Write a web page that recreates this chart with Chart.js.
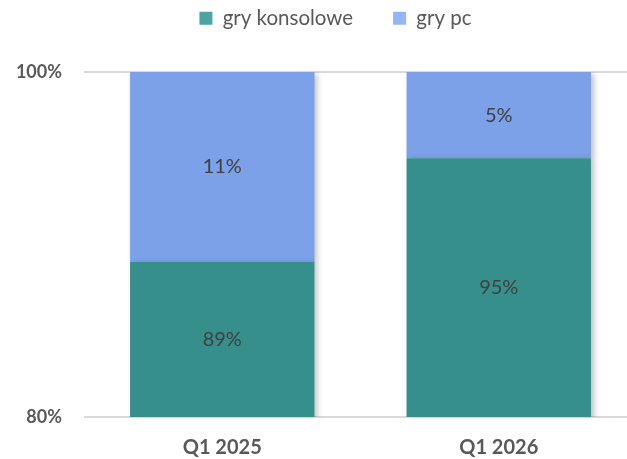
<!DOCTYPE html>
<html lang="pl">
<head>
  <meta charset="UTF-8" />
  <title>Gry konsolowe vs gry pc</title>
  <script src="https://cdn.jsdelivr.net/npm/chart.js"></script>
  <style>
    html, body {
      margin: 0;
      background: #ffffff;
      overflow: hidden;
    }
    .chart-box {
      width: 637px;
      height: 459px;
    }
  </style>
</head>
<body>
  <div class="chart-box"><canvas id="wykres"></canvas></div>

  <script>
    const kategorie = ['Q1 2025', 'Q1 2026'];
    const gryKonsolowe = [89, 95];
    const gryPc = [11, 5];
    const osY = { min: 80, max: 100, krok: 20 };

    const szary = '#595959';
    const czcionka = 'Lato, "Open Sans", sans-serif';

    // cien pod slupkami
    const cienPlugin = {
      id: 'cien',
      beforeDatasetsDraw(chart) {
        const ctx = chart.ctx;
        ctx.save();
        ctx.shadowColor = 'rgba(0,0,0,0.25)';
        ctx.shadowBlur = 6;
        ctx.shadowOffsetX = 3;
        ctx.shadowOffsetY = 2;
      },
      afterDatasetsDraw(chart) {
        chart.ctx.restore();
      }
    };

    // legenda: wyzsza ramka i lekkie przesuniecie w prawo
    const legendaPlugin = {
      id: 'legendaUklad',
      beforeInit(chart) {
        const fit = chart.legend.fit;
        chart.legend.fit = function () {
          fit.bind(chart.legend)();
          this.height = 104;
        };
      },
      afterLayout(chart) {
        chart.legend.left += 17;
        chart.legend.right += 17;
      }
    };

    // etykiety z wartosciami w srodku slupkow
    const etykietyPlugin = {
      id: 'etykiety',
      afterDraw(chart) {
        const ctx = chart.ctx;
        const area = chart.chartArea;
        ctx.save();
        ctx.font = '20px ' + czcionka;
        ctx.fillStyle = '#404040';
        ctx.textAlign = 'center';
        ctx.textBaseline = 'middle';
        chart.data.datasets.forEach((ds, i) => {
          chart.getDatasetMeta(i).data.forEach((bar, j) => {
            const gora = Math.max(bar.y, area.top);
            const dol = Math.min(bar.base, area.bottom);
            ctx.fillText(ds.data[j] + '%', bar.x, (gora + dol) / 2);
          });
        });
        ctx.restore();
      }
    };

    new Chart(document.getElementById('wykres'), {
      type: 'bar',
      data: {
        labels: kategorie,
        datasets: [
          {
            label: 'gry konsolowe',
            data: gryKonsolowe,
            backgroundColor: '#368f8b',
            legendColor: '#4aa5a1',
            barPercentage: 0.667,
            categoryPercentage: 1
          },
          {
            label: 'gry pc',
            data: gryPc,
            backgroundColor: '#7ca1e8',
            legendColor: '#94b5f6',
            barPercentage: 0.667,
            categoryPercentage: 1
          }
        ]
      },
      options: {
        responsive: true,
        maintainAspectRatio: false,
        animation: false,
        layout: { padding: { left: 0, top: -32, right: 0, bottom: -20 } },
        plugins: {
          tooltip: { enabled: false },
          legend: {
            position: 'top',
            labels: {
              color: szary,
              font: { family: czcionka, size: 20.5 },
              boxWidth: 13,
              boxHeight: 13,
              padding: 40,
              generateLabels(chart) {
                return chart.data.datasets.map((ds, i) => ({
                  text: ds.label,
                  fillStyle: ds.legendColor,
                  strokeStyle: ds.legendColor,
                  lineWidth: 0,
                  fontColor: szary,
                  datasetIndex: i
                }));
              }
            }
          }
        },
        scales: {
          x: {
            stacked: true,
            grid: { display: false, drawTicks: false },
            border: { display: false },
            ticks: {
              color: szary,
              padding: 19,
              font: { family: czcionka, size: 20, weight: 'bold' }
            }
          },
          y: {
            stacked: true,
            min: osY.min,
            max: osY.max,
            border: { display: false },
            grid: { color: '#d9d9d9', lineWidth: 2, drawTicks: false },
            afterFit(scale) { scale.width = 84; },
            ticks: {
              stepSize: osY.krok,
              padding: 22,
              color: szary,
              font: { family: czcionka, size: 18, weight: 'bold' },
              callback: v => v + '%'
            }
          }
        }
      },
      plugins: [legendaPlugin, cienPlugin, etykietyPlugin]
    });
  </script>
</body>
</html>
